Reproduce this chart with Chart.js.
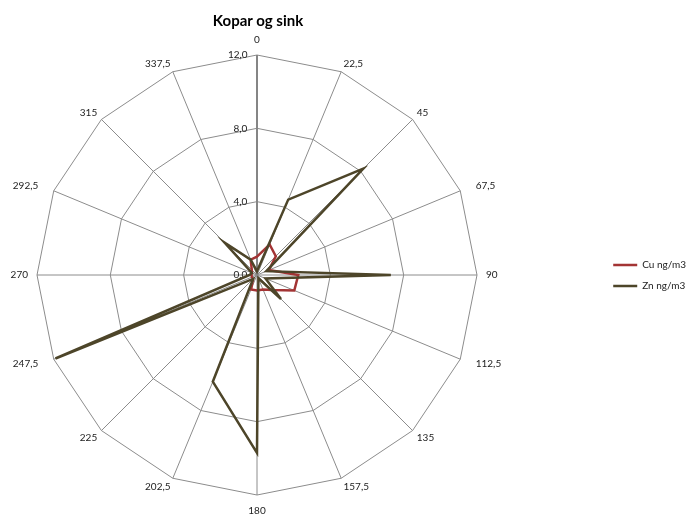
<!DOCTYPE html>
<html><head><meta charset="utf-8">
<script src="https://cdn.jsdelivr.net/npm/chart.js@4"></script>
<style>
html,body{margin:0;padding:0;background:#fff;}
#wrap{position:relative;width:686px;height:521px;overflow:hidden;}
canvas{position:absolute;left:0;top:0;}
#title{position:absolute;left:0;width:516px;top:11px;text-align:center;font:bold 15px Lato, "Open Sans", sans-serif;color:#000;}
</style></head>
<body>
<div id="wrap"><canvas id="c" width="686" height="521"></canvas><div id="title">Kopar og sink</div></div>
<script>
const directions = ["0","22,5","45","67,5","90","112,5","135","157,5","180","202,5","225","247,5","270","292,5","315","337,5"];
const cuValues = [1.0, 1.8, 1.45, 0.7, 2.25, 2.2, 1.15, 0.85, 0.85, 0.85, 0.3, 0.3, 0.3, 0.3, 0.4, 0.9];
const znValues = [0.2, 4.45, 8.2, 0.55, 7.3, 0.5, 1.85, 0.2, 9.7, 6.3, 0.3, 11.9, 0.4, 0.3, 2.5, 0.9];
const tickValues = [0, 4, 8, 12];
const seriesNames = ["Cu ng/m3", "Zn ng/m3"];

const CENTER_X = 257, CENTER_Y = 275, RADIUS = 220, TICK_GAP = 10;
const GAP_VERTICAL_AXIS = 10.5, GAP_HORIZONTAL_AXIS = 9, GAP_DIAGONAL = 6;
const AXIS_HALF_H = 5, DIAG_HALF_H = 2.5, SIDE_PUSH = 16;
const FONT = 'Lato, "Open Sans", sans-serif';

const mctx = document.createElement('canvas').getContext('2d');
mctx.font = '10px ' + FONT;
function tickText(v){
  const txt = Math.round(v).toFixed(1).replace('.', ',');
  const vw = mctx.measureText(txt).width;
  const sw = mctx.measureText(' ').width;
  const n = Math.max(0, Math.round((vw + 2 * TICK_GAP) / sw));
  return txt + ' '.repeat(n);
}

function placeRadar(scale){
  scale.xCenter = CENTER_X;
  scale.yCenter = CENTER_Y;
  scale.drawingArea = RADIUS;
  scale.setCenterPoint = function(){};
  scale.fit();
  delete scale.setCenterPoint;
  // put the label corner nearest the centre just outside the outer ring
  (scale._pointLabelItems || []).forEach((item, i) => {
    const w = item.right - item.left, h = item.bottom - item.top;
    const a = scale.getIndexAngle(i);
    const s = Math.sin(a), c = Math.cos(a);
    const sx = Math.abs(s) < 1e-6 ? 0 : Math.sign(s);
    const sy = Math.abs(c) < 1e-6 ? 0 : Math.sign(c);
    const diag = sx !== 0 && sy !== 0;
    const gap = sx === 0 ? GAP_VERTICAL_AXIS : (sy === 0 ? GAP_HORIZONTAL_AXIS : GAP_DIAGONAL);
    const p = scale.getPointPosition(i, RADIUS + gap);
    const push = diag ? SIDE_PUSH * Math.max(0, (Math.abs(s) - 0.8) / 0.2) : 0;
    const cx = p.x + sx * (w / 2 + push);
    const cy = p.y - sy * (diag ? DIAG_HALF_H : AXIS_HALF_H);
    item.x = cx;
    item.textAlign = 'center';
    item.y = cy - h / 2;
    item.left = cx - w / 2; item.right = cx + w / 2;
    item.top = item.y; item.bottom = item.y + h;
  });
}

new Chart(document.getElementById('c'), {
  type: 'radar',
  data: {
    labels: directions,
    datasets: [
      {label: seriesNames[0], data: cuValues, borderColor: '#A33434', backgroundColor: '#A33434', borderWidth: 2.5, fill: false, pointRadius: 0, tension: 0, order: 1},
      {label: seriesNames[1], data: znValues, borderColor: '#4D4529', backgroundColor: '#4D4529', borderWidth: 2.5, fill: false, pointRadius: 0, tension: 0, order: 0}
    ]
  },
  options: {
    responsive: false,
    animation: false,
    devicePixelRatio: 1,
    layout: {padding: {right: -10, top: 30}},
    plugins: {
      title: {display: false},
      tooltip: {enabled: false},
      legend: {
        position: 'right',
        labels: {
          usePointStyle: true,
          pointStyle: 'line',
          pointStyleWidth: 24,
          boxHeight: 10,
          padding: 11,
          color: '#222',
          font: {size: 10, family: FONT},
          sort: (a, b) => a.datasetIndex - b.datasetIndex
        }
      }
    },
    scales: {
      r: {
        min: -0.001,
        max: 12,
        afterBuildTicks: (scale) => { scale.ticks = tickValues.map(v => ({value: v})); },
        afterFit: placeRadar,
        grid: {circular: false, color: '#8C8C8C', lineWidth: 1},
        angleLines: {
          color: (ctx) => ctx.index === 0 ? '#858585' : '#8C8C8C',
          lineWidth: (ctx) => ctx.index === 0 ? 2 : 1
        },
        pointLabels: {padding: 10, color: '#222', font: {size: 10, family: FONT}},
        ticks: {
          showLabelBackdrop: false,
          color: '#222',
          font: {size: 10, family: FONT},
          callback: (v) => tickText(v)
        }
      }
    }
  }
});
</script>
</body></html>
